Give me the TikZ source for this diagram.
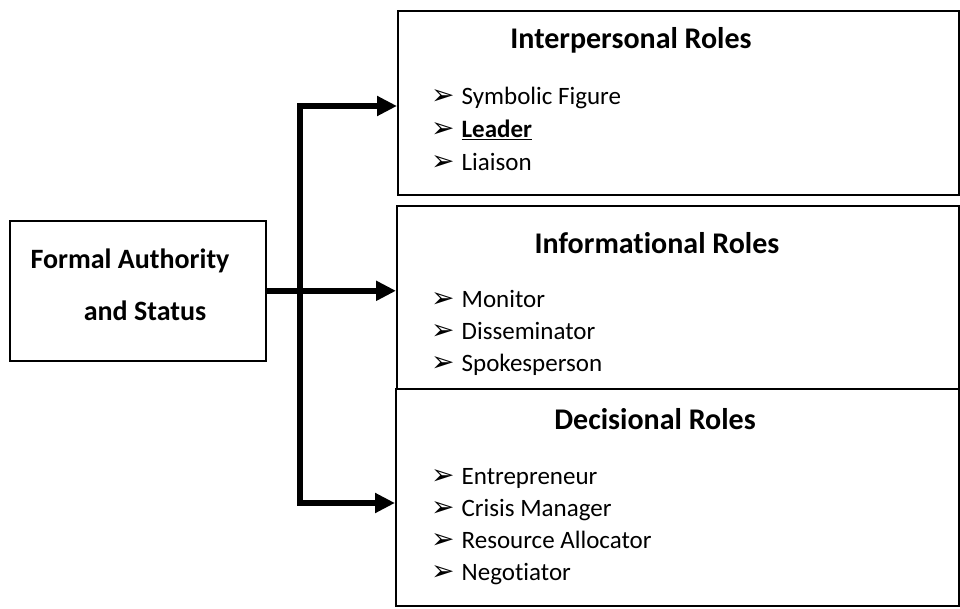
\documentclass[tikz,border=0pt]{standalone}
\usepackage{fontspec}
\setmainfont{Carlito}[Ligatures=NoCommon]
\newfontfamily\bulletfont{DejaVu Sans}
\usetikzlibrary{positioning,arrows.meta}

\newcommand{\rolebullet}{{\bulletfont\fontsize{28}{28}\selectfont\char"27A2}\hspace{7pt}}

\tikzset{
  rolebox/.style={draw, line width=1.6pt, anchor=north west, inner sep=0pt},
  roletitle/.style={font=\bfseries\fontsize{30}{34}\selectfont, inner sep=0pt},
  roleitem/.style={anchor=west, font=\fontsize{25}{28}\selectfont, inner sep=0pt,
                   text height=17pt, text depth=6pt},
  authtext/.style={font=\bfseries\fontsize{28}{32}\selectfont, inner sep=0pt},
  link/.style={line width=6pt, line join=miter},
  tip/.style={-{Triangle[length=20pt,width=19pt]}},
}

\begin{document}
\begin{tikzpicture}[x=1pt,y=-1pt]
    \useasboundingbox (0,0) rectangle (960,609);
    % the three role boxes and the source box
    \node[rolebox, minimum width=561pt, minimum height=184pt] (inter) at (397,10) {};
    \node[rolebox, minimum width=562pt, minimum height=183pt] (info) at (396,205) {};
    \node[rolebox, minimum width=563pt, minimum height=217pt] (deci) at (395,388) {};
    \node[rolebox, minimum width=256pt, minimum height=140pt] (auth) at (9,220) {};

    \node[authtext] (authA) at (130,261) {Formal Authority};
    \node[authtext] (authB) at (145,311) {and Status};

    % interpersonal
    \node[roletitle] (interT) at (631,40) {Interpersonal Roles};
    \node[roleitem] (sym) at (431,99) {\rolebullet Symbolic Figure};
    \node[roleitem] (lead) at (431,132) {\rolebullet\underline{\textbf{Leader}}};
    \node[roleitem] (liai) at (431,165) {\rolebullet Liaison};

    % informational
    \node[roletitle] (infoT) at (657,243) {Informational Roles};
    \node[roleitem] (moni) at (431,302) {\rolebullet Monitor};
    \node[roleitem] (diss) at (431,334) {\rolebullet Disseminator};
    \node[roleitem] (spok) at (431,366) {\rolebullet Spokesperson};

    % decisional
    \node[roletitle] (deciT) at (655,419) {Decisional Roles};
    \node[roleitem] (entr) at (431,479) {\rolebullet Entrepreneur};
    \node[roleitem] (cris) at (431,511) {\rolebullet Crisis Manager};
    \node[roleitem] (reso) at (431,543) {\rolebullet Resource Allocator};
    \node[roleitem] (nego) at (431,575) {\rolebullet Negotiator};

    % connectors
    \coordinate (jtop) at (300,106);
    \coordinate (jbot) at (300,503);
    \draw[link, {Triangle[length=20pt,width=19pt]}-{Triangle[length=20pt,width=19pt]}]
        (jtop -| inter.west) -- (jtop) -- (jbot) -- (jbot -| deci.west);
    \draw[link, tip] (auth.east) -- (auth.east -| info.west);
\end{tikzpicture}
\end{document}
